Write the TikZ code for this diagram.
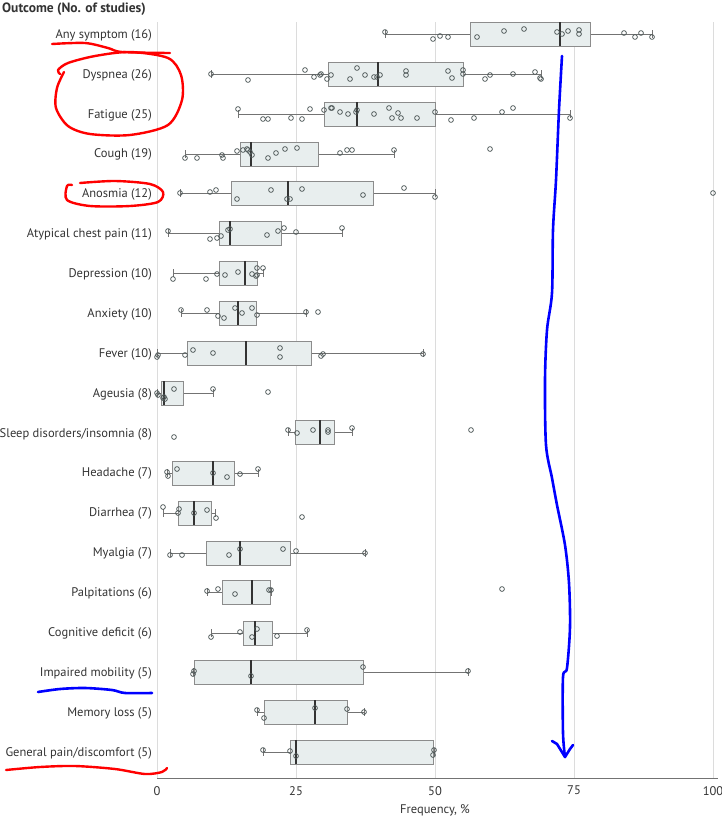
\documentclass[tikz,border=0pt]{standalone}
\usepackage{fontspec}
\setmainfont{PT Sans}
\usepackage{xcolor}
\usetikzlibrary{positioning}
\definecolor{boxfill}{HTML}{E8EEEE}
\definecolor{boxline}{HTML}{8C8C8C}
\definecolor{ptline}{HTML}{505A5A}
\definecolor{gridgray}{HTML}{DCDCDC}
\definecolor{penred}{HTML}{FF0000}
\definecolor{penblue}{HTML}{0000FF}

\newcommand{\bplot}[6]{%
  \draw[whisk] (#2,#1) -- (#3,#1) (#5,#1) -- (#6,#1);
  \draw[whisk] (#2,#1-4) -- (#2,#1+4) (#6,#1-4) -- (#6,#1+4);
  \draw[bx] (#3,#1-12) rectangle (#5,#1+12);
  \draw[med] (#4,#1-12) -- (#4,#1+12);
}

\begin{document}
\begin{tikzpicture}[
        x=1pt, y=-1pt,
        lab/.style={
            anchor=east,
            inner sep=0pt,
            text=black!80,
            font=\fontsize{12.5}{14}\selectfont
        },
        tick/.style={
            anchor=north,
            inner sep=0pt,
            text=black!80,
            font=\fontsize{12.5}{14}\selectfont
        },
        grid/.style={draw=gridgray, line width=0.8pt},
        whisk/.style={draw=black!55, line width=0.8pt},
        bx/.style={draw=boxline, fill=boxfill, line width=0.9pt},
        med/.style={draw=black!80, line width=1.6pt},
        pt/.style={draw=ptline, line width=0.75pt},
        redpen/.style={draw=penred, line width=2.4pt, line cap=round, line join=round},
        bluepen/.style={draw=penblue, line width=2.6pt, line cap=round, line join=round}
    ]
        \useasboundingbox (0,0) rectangle (721,822);

        % grid and axis
        \foreach \v in {0,25,50,75,100} {
            \draw[grid] (157+5.56*\v,22) -- (157+5.56*\v,778);
        }
        \draw[draw=black!55, line width=0.9pt] (157,778) -- (718,778);

        \node (n0) [tick] at (157,786) {0};
        \node (n25) [tick] at (296,786) {25};
        \node (n50) [tick] at (435,786) {50};
        \node (n75) [tick] at (574,786) {75};
        \node (n100) [tick] at (713,786) {100};
        \node (xlab) [tick] at (435,804) {Frequency, \%};

        \node (title) [anchor=west, inner sep=0pt, text=black!80,
            font=\fontsize{13.5}{15}\selectfont\bfseries] at (2,9) {Outcome (No. of studies)};

        % row labels
        \node (lany) [lab] at (152,35) {Any symptom (16)};
        \node (ldys) [lab] at (152,75) {Dyspnea (26)};
        \node (lfat) [lab] at (152,115) {Fatigue (25)};
        \node (lcou) [lab] at (152,154) {Cough (19)};
        \node (lano) [lab] at (152,194) {Anosmia (12)};
        \node (latc) [lab] at (152,234) {Atypical chest pain (11)};
        \node (ldep) [lab] at (152,274) {Depression (10)};
        \node (lanx) [lab] at (152,314) {Anxiety (10)};
        \node (lfev) [lab] at (152,354) {Fever (10)};
        \node (lage) [lab] at (152,394) {Ageusia (8)};
        \node (lsle) [lab] at (152,434) {Sleep disorders/insomnia (8)};
        \node (lhea) [lab] at (152,473) {Headache (7)};
        \node (ldia) [lab] at (152,513) {Diarrhea (7)};
        \node (lmya) [lab] at (152,553) {Myalgia (7)};
        \node (lpal) [lab] at (152,593) {Palpitations (6)};
        \node (lcog) [lab] at (152,633) {Cognitive deficit (6)};
        \node (limp) [lab] at (152,673) {Impaired mobility (5)};
        \node (lmem) [lab] at (152,713) {Memory loss (5)};
        \node (lgen) [lab] at (152,753) {General pain/discomfort (5)};

        % boxes
        \bplot{34}{385}{470}{560}{590}{652}
        \foreach \x/\y in {385/32,433/39,440/36,448/37,477/37,504/31,524/29,557/32,
            562/34,568/31,579/30,579/34,624/33,635/37,641/33,652/37}
            \draw[pt] (\x,\y) circle (2.4pt);

        \bplot{74}{211}{328}{378}{463}{541}
        \foreach \x/\y in {211/74,248/80,305/70,314/77,320/75,321/74,327/79,331/75,350/79,357/68,
            365/75,374/77,377/77,380/75,406/71,406/75,448/71,452/78,463/70,463/74,485/79,490/75,
            513/74,535/72,540/78,541/79}
            \draw[pt] (\x,\y) circle (2.4pt);

        \bplot{114}{238}{324}{357}{435}{570}
        \foreach \x/\y in {238/109,263/119,268/119,291/118,302/119,310/109,324/110,331/108,332/108,
            340/112,348/114,356/112,357/110,374/114,389/108,392/118,398/113,401/118,417/118,
            435/112,451/120,474/118,502/112,513/108,570/118}
            \draw[pt] (\x,\y) circle (2.4pt);

        \bplot{154}{185}{240}{251}{318}{394}
        \foreach \x/\y in {185/158,197/158,222/155,223/158,237/151,243/150,247/149,248/150,250/152,
            252/155,268/158,276/153,285/149,297/148,340/153,347/150,352/150,394/150,490/149}
            \draw[pt] (\x,\y) circle (2.4pt);

        \bplot{193}{180}{231}{288}{373}{435}
        \foreach \x/\y in {180/193,210/192,216/190,237/199,271/190,287/199,290/199,302/189,
            363/195,404/188,435/197,713/193}
            \draw[pt] (\x,\y) circle (2.4pt);

        \bplot{233}{168}{219}{230}{281}{342}
        \foreach \x/\y in {168/231,210/239,217/238,221/236,228/230,230/229,267/235,278/231,
            284/228,296/232,342/228}
            \draw[pt] (\x,\y) circle (2.4pt);

        \bplot{273}{173}{219}{245}{257}{263}
        \foreach \x/\y in {173/279,206/279,217/274,225/275,238/272,252/274,257/268,257/275,
            256/276,263/268}
            \draw[pt] (\x,\y) circle (2.4pt);

        \bplot{313}{181}{219}{238}{256}{306}
        \foreach \x/\y in {181/310,207/310,218/316,224/318,235/308,242/313,252/308,257/315,
            306/312,318/312}
            \draw[pt] (\x,\y) circle (2.4pt);

        \bplot{353}{157}{187}{246}{311}{423}
        \foreach \x/\y in {157/357,158/355,185/355,193/350,213/353,280/348,280/357,321/356,
            323/354,423/354}
            \draw[pt] (\x,\y) circle (2.4pt);

        \bplot{393}{157}{161}{164}{183}{213}
        \foreach \x/\y in {157/393,158/395,163/398,165/399,164/397,174/389,213/389,268/392}
            \draw[pt] (\x,\y) circle (2.4pt);

        \bplot{432}{288}{295}{320}{334}{352}
        \foreach \x/\y in {174/437,288/430,297/433,313/430,328/430,328/432,352/428,471/430}
            \draw[pt] (\x,\y) circle (2.4pt);

        \bplot{473}{167}{172}{213}{234}{258}
        \foreach \x/\y in {167/472,168/476,177/469,213/473,227/477,240/474,258/469}
            \draw[pt] (\x,\y) circle (2.4pt);

        \bplot{513}{163}{178}{194}{211}{215}
        \foreach \x/\y in {163/507,178/513,179/509,194/513,207/510,216/518,302/517}
            \draw[pt] (\x,\y) circle (2.4pt);

        \bplot{553}{170}{206}{240}{290}{365}
        \foreach \x/\y in {170/555,182/555,229/555,240/549,283/549,296/551,365/553}
            \draw[pt] (\x,\y) circle (2.4pt);

        \bplot{592}{207}{222}{252}{270}{271}
        \foreach \x/\y in {207/591,218/589,235/594,269/590,271/590,502/589}
            \draw[pt] (\x,\y) circle (2.4pt);

        \bplot{633}{211}{243}{255}{272}{307}
        \foreach \x/\y in {211/637,240/632,252/637,257/629,277/636,307/630}
            \draw[pt] (\x,\y) circle (2.4pt);

        \bplot{672}{193}{194}{251}{363}{468}
        \foreach \x/\y in {194/671,193/674,251/676,363/667,468/671}
            \draw[pt] (\x,\y) circle (2.4pt);

        \bplot{712}{257}{264}{315}{347}{364}
        \foreach \x/\y in {257/710,264/718,315/708,347/709,364/712}
            \draw[pt] (\x,\y) circle (2.4pt);

        \bplot{752}{263}{290}{296}{433}{434}
        \foreach \x/\y in {263/750,290/751,296/756,434/750,433/755}
            \draw[pt] (\x,\y) circle (2.4pt);

        % pen marks
        \draw[redpen] plot[smooth] coordinates {(52,44) (85,43) (108,48) (122,52) (170,53)};
        \draw[redpen] plot[smooth] coordinates {(60,74) (58,70) (68,63) (95,56) (130,52) (168,58)
            (181,75) (182,100) (168,125) (130,135) (90,134) (68,126) (56,108) (57,88) (64,72)};
        \draw[redpen] plot[smooth] coordinates {(72,185) (67,186) (67,200) (90,206) (130,206)
            (158,202) (163,192) (150,184) (115,181) (80,183)};
        \draw[redpen] plot[smooth] coordinates {(6,770) (40,767) (75,766) (115,769) (145,774)
            (162,772) (167,768)};
        \draw[bluepen] plot[smooth] coordinates {(38,692) (60,689) (85,688) (112,690) (125,693)
            (152,693)};
        \draw[bluepen] plot[smooth] coordinates {(562,56) (559,110) (556,180) (553,230) (552,293)
            (547,330) (545,380) (546,445) (552,478) (557,505) (565,545) (569,583) (570,627)
            (567,668) (563,677) (563,733) (565,757)};
        \draw[bluepen] (552,741) -- (557,744) -- (565,757) -- (570,749) -- (573,745);
    \end{tikzpicture}
\end{document}
